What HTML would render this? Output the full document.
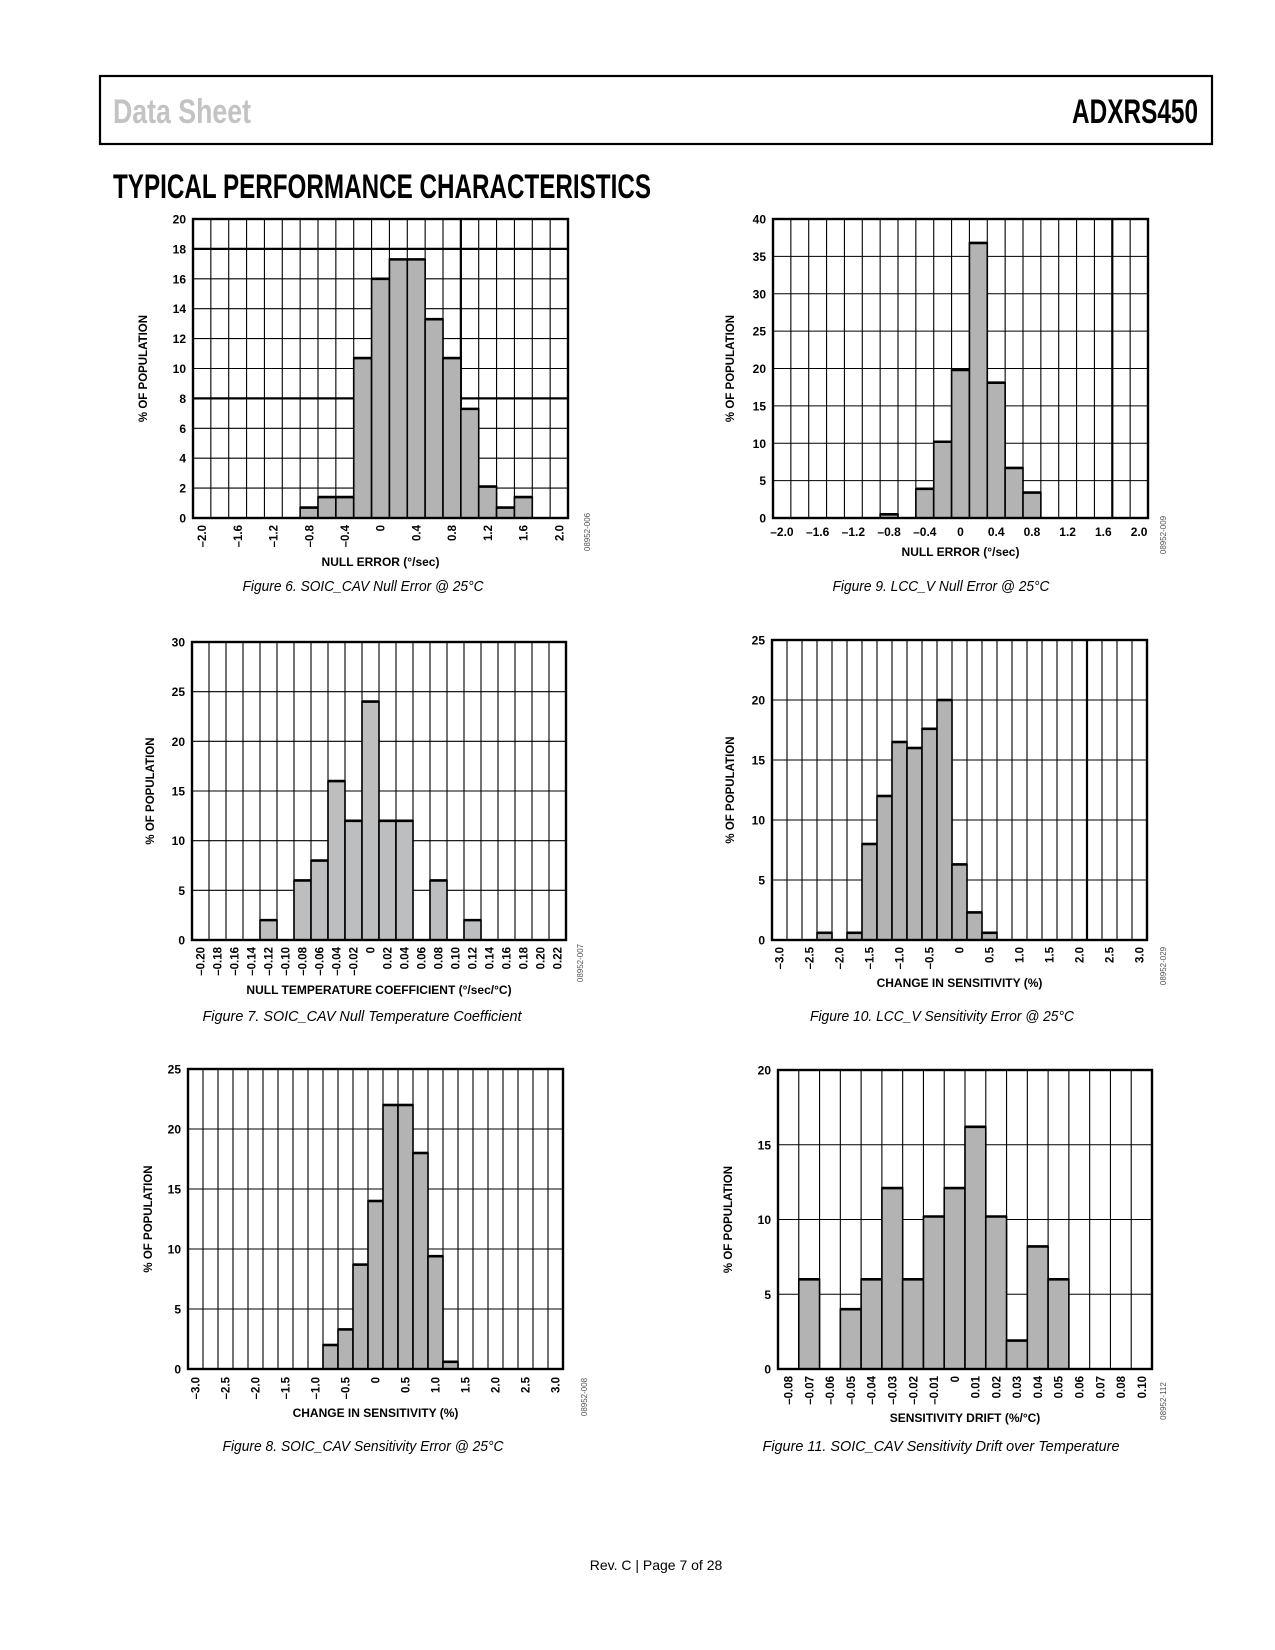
<!DOCTYPE html>
<html><head><meta charset="utf-8"><style>
html,body{margin:0;padding:0;background:#fff}
svg{display:block}
</style></head><body>
<svg id="page" width="1275" height="1650" viewBox="0 0 1275 1650" xmlns="http://www.w3.org/2000/svg" font-family="'Liberation Sans', sans-serif">
<rect x="100" y="76" width="1112" height="68" fill="none" stroke="#000" stroke-width="2.2"/>
<text x="113" y="123" font-family="'Liberation Sans Narrow','Liberation Sans',sans-serif" font-weight="bold" font-size="34" fill="#c3c3c3" textLength="138" lengthAdjust="spacingAndGlyphs">Data Sheet</text>
<text x="1072" y="123" font-family="'Liberation Sans Narrow','Liberation Sans',sans-serif" font-weight="bold" font-size="34" fill="#000" textLength="126" lengthAdjust="spacingAndGlyphs">ADXRS450</text>
<text x="113" y="198" font-family="'Liberation Sans Narrow','Liberation Sans',sans-serif" font-weight="bold" font-size="34" fill="#000" textLength="538" lengthAdjust="spacingAndGlyphs">TYPICAL PERFORMANCE CHARACTERISTICS</text>
<g font-style="italic" font-size="15" text-anchor="middle" fill="#000">
<text x="363" y="591" textLength="241" lengthAdjust="spacingAndGlyphs">Figure 6. SOIC_CAV Null Error @ 25°C</text>
<text x="941" y="591" textLength="217" lengthAdjust="spacingAndGlyphs">Figure 9. LCC_V Null Error @ 25°C</text>
<text x="362" y="1021" textLength="319" lengthAdjust="spacingAndGlyphs">Figure 7. SOIC_CAV Null Temperature Coefficient</text>
<text x="942" y="1021" textLength="264" lengthAdjust="spacingAndGlyphs">Figure 10. LCC_V Sensitivity Error @ 25°C</text>
<text x="363" y="1451" textLength="281" lengthAdjust="spacingAndGlyphs">Figure 8. SOIC_CAV Sensitivity Error @ 25°C</text>
<text x="941" y="1451" textLength="357" lengthAdjust="spacingAndGlyphs">Figure 11. SOIC_CAV Sensitivity Drift over Temperature</text>
</g>
<text x="656" y="1570" font-size="14" text-anchor="middle">Rev. C | Page 7 of 28</text>
</svg>
<script>
// ---- data arrays ----
const fig6Labels = ['–2.0','','–1.6','','–1.2','','–0.8','','–0.4','','0','','0.4','','0.8','','1.2','','1.6','','2.0'];
const fig6Values = [0,0,0,0,0,0,0.7,1.4,1.4,10.7,16,17.3,17.3,13.3,10.7,7.3,2.1,0.7,1.4,0,0];
const fig6YTicks = [0,2,4,6,8,10,12,14,16,18,20];

const fig9Labels = ['–2.0','','–1.6','','–1.2','','–0.8','','–0.4','','0','','0.4','','0.8','','1.2','','1.6','','2.0'];
const fig9Values = [0,0,0,0,0,0,0.5,0,3.9,10.2,19.8,36.8,18.1,6.7,3.4,0,0,0,0,0,0];
const fig9YTicks = [0,5,10,15,20,25,30,35,40];

const fig7Labels = ['–0.20','–0.18','–0.16','–0.14','–0.12','–0.10','–0.08','–0.06','–0.04','–0.02','0','0.02','0.04','0.06','0.08','0.10','0.12','0.14','0.16','0.18','0.20','0.22'];
const fig7Values = [0,0,0,0,2,0,6,8,16,12,24,12,12,0,6,0,2,0,0,0,0,0];
const fig7YTicks = [0,5,10,15,20,25,30];

const fig10Labels = ['–3.0','','–2.5','','–2.0','','–1.5','','–1.0','','–0.5','','0','','0.5','','1.0','','1.5','','2.0','','2.5','','3.0'];
const fig10Values = [0,0,0,0.6,0,0.6,8,12,16.5,16,17.6,20,6.3,2.3,0.6,0,0,0,0,0,0,0,0,0,0];
const fig10YTicks = [0,5,10,15,20,25];

const fig8Labels = ['–3.0','','–2.5','','–2.0','','–1.5','','–1.0','','–0.5','','0','','0.5','','1.0','','1.5','','2.0','','2.5','','3.0'];
const fig8Values = [0,0,0,0,0,0,0,0,0,2,3.3,8.7,14,22,22,18,9.4,0.6,0,0,0,0,0,0,0];
const fig8YTicks = [0,5,10,15,20,25];

const fig11Labels = ['–0.08','–0.07','–0.06','–0.05','–0.04','–0.03','–0.02','–0.01','0','0.01','0.02','0.03','0.04','0.05','0.06','0.07','0.08','0.10'];
const fig11Values = [0,6,0,4,6,12.1,6,10.2,12.1,16.2,10.2,1.9,8.2,6,0,0,0,0];
const fig11YTicks = [0,5,10,15,20];

const NS='http://www.w3.org/2000/svg';
const page=document.getElementById('page');
function mk(tag,attrs,parent){const e=document.createElementNS(NS,tag);for(const k in attrs)e.setAttribute(k,attrs[k]);(parent||page).appendChild(e);return e;}

function chart(id,cfg,labels,values,yTicks){
  const g=mk('g',{});
  
  
  const n=labels.length, cw=(cfg.x1-cfg.x0)/n, ymax=yTicks[yTicks.length-1];
  const X=i=>cfg.x0+i*cw;
  const Y=v=>cfg.y1-(v/ymax)*(cfg.y1-cfg.y0);
  yTicks.forEach(t=>{
    const thick=(cfg.thickY||[]).includes(t);
    const l=mk('line',{x1:cfg.x0,x2:cfg.x1,y1:Y(t),y2:Y(t),stroke:'#000','stroke-width':thick?2.2:1.1},g);
    
    
    const tx=mk('text',{x:cfg.x0-7,y:Y(t)+4.5,'text-anchor':'end','font-size':12,'font-weight':'bold'},g);
    tx.textContent=t;
    
    
  });
  for(let i=1;i<n;i++){
    const thick=(cfg.thickX||[]).includes(i);
    const l=mk('line',{x1:X(i),x2:X(i),y1:cfg.y0,y2:cfg.y1,stroke:'#000','stroke-width':thick?2.2:1.1},g);
    
    
  }
  values.forEach((v,i)=>{
    if(v<=0)return;
    const r=mk('rect',{x:X(i),y:Y(v),width:cw,height:cfg.y1-Y(v),fill:cfg.fill||'#b3b3b3',stroke:'#000','stroke-width':1.6},g);
    
    
    mk('line',{x1:X(i),x2:X(i)+cw,y1:Y(v),y2:Y(v),stroke:'#000','stroke-width':2.6},g);
  });
  const f=mk('rect',{x:cfg.x0,y:cfg.y0,width:cfg.x1-cfg.x0,height:cfg.y1-cfg.y0,fill:'none',stroke:'#000','stroke-width':2.4},g);
  
  
  labels.forEach((lab,i)=>{
    if(!lab)return;
    const cx=X(i)+cw/2;
    let t;
    if(cfg.rot){
      t=mk('text',{transform:`translate(${cx+4.2},${cfg.labY}) rotate(-90)`,'text-anchor':'end','font-size':11.5,'font-weight':'bold'},g);
    }else{
      t=mk('text',{x:cx,y:cfg.labY,'text-anchor':'middle','font-size':12,'font-weight':'bold'},g);
    }
    t.textContent=lab;
    
    
  });
  const xt=mk('text',{x:(cfg.x0+cfg.x1)/2,y:cfg.titleY+4,'text-anchor':'middle','font-size':12,'font-weight':'bold'},g);
  xt.textContent=cfg.xTitle;
  
  
  const yc=(cfg.y0+cfg.y1)/2;
  const yt=mk('text',{transform:`translate(${cfg.yTitleX+4},${yc}) rotate(-90)`,'text-anchor':'middle','font-size':11.5,'font-weight':'bold'},g);
  yt.textContent='% OF POPULATION';
  
  
  const idt=mk('text',{transform:`translate(${cfg.idX+3},${cfg.idY}) rotate(-90)`,'text-anchor':'middle','font-size':8,fill:'#555'},g);
  idt.textContent=cfg.idText;
  
  
}

chart('fig6',{x0:193,x1:568,y0:219,y1:518,rot:true,labY:525,titleY:562,xTitle:'NULL ERROR (°/sec)',yTitleX:143,thickY:[18,8],thickX:[15],idX:587,idY:532,idText:'08952-006'},fig6Labels,fig6Values,fig6YTicks);
chart('fig9',{x0:773,x1:1148,y0:219,y1:518,rot:false,labY:536,titleY:552,xTitle:'NULL ERROR (°/sec)',yTitleX:730,thickX:[19],idX:1163,idY:535,idText:'08952-009'},fig9Labels,fig9Values,fig9YTicks);
chart('fig7',{x0:192,x1:566,y0:642,y1:940,rot:true,labY:947,titleY:990,xTitle:'NULL TEMPERATURE COEFFICIENT (°/sec/°C)',yTitleX:150,fill:'#bcbec0',idX:580,idY:963,idText:'08952-007'},fig7Labels,fig7Values,fig7YTicks);
chart('fig10',{x0:772,x1:1147,y0:640,y1:940,rot:true,labY:947,titleY:983,xTitle:'CHANGE IN SENSITIVITY (%)',yTitleX:730,thickX:[21],idX:1163,idY:966,idText:'08952-029'},fig10Labels,fig10Values,fig10YTicks);
chart('fig8',{x0:188,x1:563,y0:1069,y1:1369,rot:true,labY:1377,titleY:1413,xTitle:'CHANGE IN SENSITIVITY (%)',yTitleX:148,idX:584,idY:1397,idText:'08952-008'},fig8Labels,fig8Values,fig8YTicks);
chart('fig11',{x0:778,x1:1152,y0:1070,y1:1369,rot:true,labY:1376,titleY:1418,xTitle:'SENSITIVITY DRIFT (%/°C)',yTitleX:728,idX:1163,idY:1401,idText:'08952-112'},fig11Labels,fig11Values,fig11YTicks);
</script>
</body></html>
